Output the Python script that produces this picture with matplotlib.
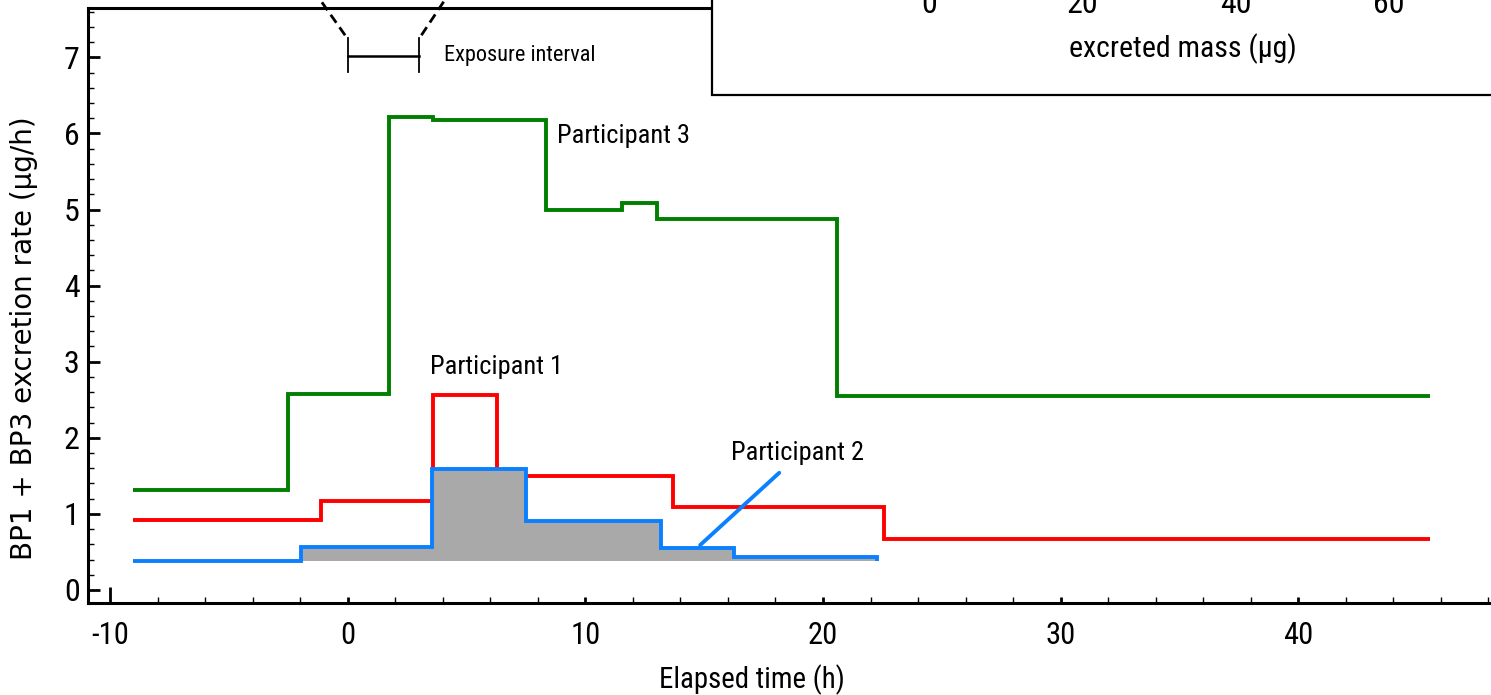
import matplotlib
matplotlib.use("Agg")
import matplotlib.pyplot as plt
from matplotlib.patches import Rectangle
from matplotlib.ticker import MultipleLocator

# interval edges (h) and mean excretion rate over each interval (ug/h)
p1_edges = [-9.03, -1.12, 3.60, 6.27, 13.68, 22.57, 45.54]
p1_rate = [0.92, 1.17, 2.56, 1.50, 1.09, 0.67]

p2_edges = [-9.03, -1.97, 3.53, 7.50, 13.18, 16.27, 22.26]
p2_rate = [0.38, 0.56, 1.59, 0.91, 0.55, 0.44]

p3_edges = [-9.03, -2.50, 1.75, 3.58, 8.33, 11.53, 13.03, 20.59, 45.54]
p3_rate = [1.31, 2.58, 6.22, 6.18, 5.00, 5.08, 4.88, 2.55]

exposure = [0.0, 3.0]
x_ticks = [-10, 0, 10, 20, 30, 40]
y_ticks = [0, 1, 2, 3, 4, 5, 6, 7]
mass_ticks = [0, 20, 40, 60]

RED, BLUE, GREEN, GREY = "#ff0000", "#0a80ff", "#007f00", "#a9a9a9"
NARROW = ["Roboto Condensed", "Archivo Narrow", "Liberation Sans"]

plt.rcParams["axes.unicode_minus"] = False

W, H = 1491, 695
fig = plt.figure(figsize=(W / 100, H / 100), dpi=100)
# main axes runs past the right edge, so no right spine shows
ax = fig.add_axes([88 / W, 92 / H, (W - 88) / W + 0.01, 595 / H])

ax.stairs(p3_rate, p3_edges, baseline=None, color=GREEN, lw=2.8)
ax.stairs(p1_rate, p1_edges, baseline=None, color=RED, lw=2.8)
# area under participant 2 above the pre-exposure level
ax.stairs(p2_rate[1:], p2_edges[1:], baseline=p2_rate[0], fill=True,
          color=GREY, lw=0)
ax.stairs(p2_rate, p2_edges, baseline=p2_rate[0], color=BLUE, lw=2.8)

tf = dict(family=NARROW, color="black")
ax.text(3.46, 2.93, "Participant 1", ha="left", va="center", fontsize=19, **tf)
ax.text(8.79, 5.96, "Participant 3", ha="left", va="center", fontsize=19, **tf)
ax.text(18.91, 1.80, "Participant 2", ha="center", va="center", fontsize=19, **tf)
ax.plot([14.83, 18.16], [0.59, 1.54], color=BLUE, lw=2.8, solid_capstyle="round")

# exposure interval bracket and the guide lines up to the zoom box
ax.plot(exposure, [7.02, 7.02], color="black", lw=1.8)
for xe in exposure:
    ax.plot([xe, xe], [6.81, 7.25], color="black", lw=1.3)
ax.plot([-0.11, -1.17], [7.29, 7.76], color="black", lw=2, ls=(0, (3.5, 2)),
        clip_on=False)
ax.plot([3.1, 4.1], [7.29, 7.76], color="black", lw=2, ls=(0, (3.5, 2)),
        clip_on=False)
ax.text(4.05, 7.02, "Exposure interval", ha="left", va="center", fontsize=16, **tf)

ax.set_xlim(-10.93, 48.74)
ax.set_ylim(-0.171, 7.648)
ax.set_xticks(x_ticks)
ax.set_yticks(y_ticks)
ax.xaxis.set_minor_locator(MultipleLocator(2))
ax.yaxis.set_minor_locator(MultipleLocator(0.2))
ax.tick_params(axis="both", which="both", direction="in", top=False, right=False)
ax.tick_params(axis="y", which="major", length=8.5, width=2, pad=6, labelsize=23)
ax.tick_params(axis="y", which="minor", length=4.3, width=1)
ax.tick_params(axis="x", which="major", length=4.5, width=2, pad=13, labelsize=22)
ax.tick_params(axis="x", which="minor", length=4.5, width=1)
for lab in ax.get_xticklabels() + ax.get_yticklabels():
    lab.set_family(NARROW)
ax.xaxis.get_major_ticks()[0].tick1line.set_markersize(11.5)
for s in ax.spines.values():
    s.set_linewidth(2.2)
ax.spines["right"].set_visible(False)

ax.set_xlabel("Elapsed time (h)", fontsize=20.7, family=NARROW)
ax.xaxis.set_label_coords(0.4683, -0.103)
ax.xaxis.label.set_va("top")
ax.set_ylabel("BP1 + BP3 excretion rate (\u00b5g/h)", fontsize=20,
              family="DejaVu Sans")
ax.yaxis.set_label_coords(-0.0356, 0.445)

# framed inset with cumulative excreted mass
fig.add_artist(Rectangle((712 / W, (H - 95) / H), 1.0, 1.0, transform=fig.transFigure,
                         facecolor="white", edgecolor="black", lw=1.6,
                         zorder=1, clip_on=False))
ins = fig.add_axes([890.7 / W, 1 + 21 / H, 584.2 / W, 200 / H], zorder=2)
ins.set_xlim(-5, 71.2)
ins.set_xticks(mass_ticks)
ins.set_yticks([])
ins.tick_params(axis="x", direction="in", length=5, width=2, pad=8, labelsize=23)
for lab in ins.get_xticklabels():
    lab.set_family(NARROW)
ins.set_xlabel("excreted mass (\u00b5g)", fontsize=21.5, family=NARROW)
ins.xaxis.set_label_coords(0.5, -(33 + 21) / 200)
ins.xaxis.label.set_va("top")

fig.savefig("out.png", dpi=100)
